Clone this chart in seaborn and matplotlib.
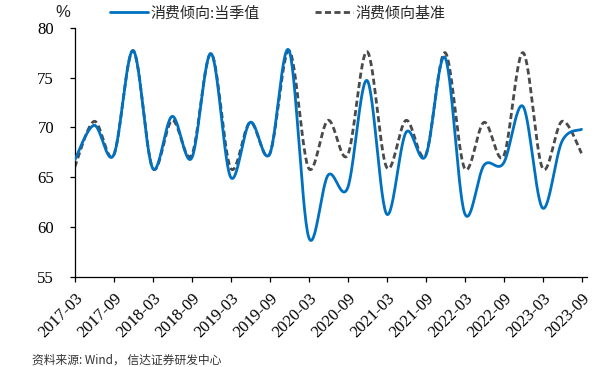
import numpy as np
import pandas as pd
import seaborn as sns
import matplotlib
matplotlib.use("Agg")
import matplotlib.pyplot as plt
from matplotlib.lines import Line2D

# ---- data (quarterly, 2017-03 .. 2023-09) ----
quarters = ["2017-03", "2017-06", "2017-09", "2017-12",
            "2018-03", "2018-06", "2018-09", "2018-12",
            "2019-03", "2019-06", "2019-09", "2019-12",
            "2020-03", "2020-06", "2020-09", "2020-12",
            "2021-03", "2021-06", "2021-09", "2021-12",
            "2022-03", "2022-06", "2022-09", "2022-12",
            "2023-03", "2023-06", "2023-09"]
actual = [66.7, 70.2, 67.2, 77.7, 65.9, 71.1, 66.9, 77.4, 65.0, 70.5, 67.3, 77.7,
          59.0, 65.2, 63.9, 74.7, 61.3, 69.5, 67.1, 77.0, 61.4, 66.2, 66.4, 72.1,
          61.9, 68.6, 69.8]
baseline = [66.0, 70.6, 67.2, 77.7, 65.9, 70.7, 67.2, 77.4, 65.9, 70.5, 67.3, 77.7,
            65.9, 70.7, 67.2, 77.6, 66.0, 70.7, 67.2, 77.5, 65.9, 70.5, 67.1, 77.5,
            65.9, 70.6, 67.4]
tick_labels = quarters[::2]
series_names = ["消费倾向:当季值", "消费倾向基准"]


def smooth(xs, ys, n=30):
    """Catmull-Rom style smoothing (like spreadsheet smoothed lines)."""
    xs = np.asarray(xs, float)
    ys = np.asarray(ys, float)
    px = np.concatenate([[xs[0]], xs, [xs[-1]]])
    py = np.concatenate([[ys[0]], ys, [ys[-1]]])
    ox, oy = [], []
    for i in range(1, len(px) - 2):
        p0, p1, p2, p3 = (np.array([px[j], py[j]]) for j in (i - 1, i, i + 1, i + 2))
        c1 = p1 + (p2 - p0) / 6.0
        c2 = p2 - (p3 - p1) / 6.0
        t = np.linspace(0, 1, n, endpoint=(i == len(px) - 3))[:, None]
        b = ((1 - t) ** 3) * p1 + 3 * ((1 - t) ** 2) * t * c1 + 3 * (1 - t) * t ** 2 * c2 + t ** 3 * p2
        ox.extend(b[:, 0]); oy.extend(b[:, 1])
    return np.array(ox), np.array(oy)


idx = np.arange(len(quarters))
frames = []
for name, vals in zip(series_names, [actual, baseline]):
    sx, sy = smooth(idx, vals)
    frames.append(pd.DataFrame({"x": sx, "y": sy, "series": name}))
df = pd.concat(frames, ignore_index=True)

sns.set_theme(style="white")
plt.rcParams["font.family"] = ["Noto Sans CJK SC", "DejaVu Sans"]

fig = plt.figure(figsize=(6.07, 3.67), dpi=100)
ax = fig.add_axes([0.123, 0.246, 0.844, 0.6785])

colors = {series_names[0]: "#0070C0", series_names[1]: "#4a4a4a"}
sns.lineplot(data=df, x="x", y="y", hue="series", style="series",
             palette=colors, dashes={series_names[0]: "", series_names[1]: (2.2, 1.2)},
             sort=False, estimator=None, linewidth=2.0, ax=ax, legend=False)
for ln in ax.get_lines():
    if ln.get_linestyle() == "-":
        ln.set_zorder(3)

ax.set_xlim(0, 26.28)
ax.set_ylim(55, 80)
ax.set_yticks([55, 60, 65, 70, 75, 80])
ax.set_xticks(idx[::2])
ax.set_xticklabels(tick_labels, rotation=45, ha="right", rotation_mode="anchor",
                   family="Liberation Serif", fontsize=12)
for lab in ax.get_yticklabels():
    lab.set_family("Liberation Serif")
    lab.set_fontsize(12)
ax.set_xlabel("")
ax.set_ylabel("")

for s in ["top", "right"]:
    ax.spines[s].set_visible(False)
for s in ["left", "bottom"]:
    ax.spines[s].set_color("black")
    ax.spines[s].set_linewidth(0.9)
ax.tick_params(axis="both", direction="out", length=3.8, width=0.9, colors="black",
               bottom=True, left=True)
ax.tick_params(axis="y", pad=11)
ax.tick_params(axis="x", pad=6)

handles = [Line2D([], [], color=colors[series_names[0]], lw=2.0),
           Line2D([], [], color=colors[series_names[1]], lw=2.0, ls=(0, (2.2, 1.2)))]
fig.legend(handles, series_names, loc="upper center", bbox_to_anchor=(0.458, 1.02),
           ncol=2, frameon=False, fontsize=10.8, handlelength=2.5, columnspacing=3.7,
           handletextpad=0.2)

fig.text(0.092, 0.945, "%", fontsize=12, family="Liberation Sans", ha="left", va="bottom")
fig.text(0.052, 0.019, "资料来源: Wind， 信达证券研发中心", fontsize=8.5, style="italic",
         color="#333333", ha="left", va="center")

fig.savefig("out.png", dpi=100)
